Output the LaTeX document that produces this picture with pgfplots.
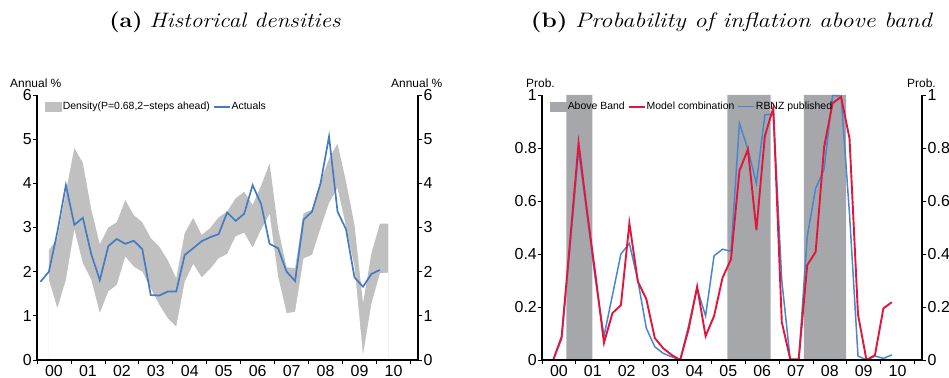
\documentclass[border=0pt]{standalone}
\usepackage{fontspec}
\setsansfont{Liberation Sans}
\usepackage{pgfplots}
\usepackage{pgfplotstable}
\pgfplotsset{compat=1.18}

\definecolor{bandgray}{RGB}{192,192,192}
\definecolor{actblue}{RGB}{68,124,196}
\definecolor{abovegray}{RGB}{166,167,171}
\definecolor{modred}{RGB}{226,22,58}
\definecolor{rbnzblue}{RGB}{74,134,207}

% Actual inflation (quarterly)
\pgfplotstableread{
x y
2000.10 1.77
2000.35 2.00
2000.60 2.90
2000.85 3.96
2001.10 3.06
2001.35 3.22
2001.60 2.39
2001.85 1.81
2002.10 2.58
2002.35 2.74
2002.60 2.63
2002.85 2.70
2003.10 2.51
2003.35 1.47
2003.60 1.46
2003.85 1.55
2004.10 1.55
2004.35 2.38
2004.60 2.53
2004.85 2.69
2005.10 2.78
2005.35 2.85
2005.60 3.34
2005.85 3.15
2006.10 3.31
2006.35 3.96
2006.60 3.53
2006.85 2.63
2007.10 2.53
2007.35 2.00
2007.60 1.79
2007.85 3.18
2008.10 3.36
2008.35 4.00
2008.60 5.06
2008.85 3.36
2009.10 2.96
2009.35 1.87
2009.60 1.66
2009.85 1.95
2010.10 2.04
}\actuals

% Density band (lower, upper)
\pgfplotstableread{
x lo up
2000.35 1.81 2.49
2000.60 1.17 2.75
2000.85 1.81 3.80
2001.10 2.95 4.80
2001.35 2.19 4.46
2001.60 1.81 3.40
2001.85 1.06 2.62
2002.10 1.55 3.00
2002.35 1.70 3.12
2002.60 2.34 3.62
2002.85 2.11 3.28
2003.10 2.00 3.12
2003.35 1.62 2.76
2003.60 1.25 2.57
2003.85 0.94 2.26
2004.10 0.75 1.85
2004.35 1.77 2.87
2004.60 2.17 3.22
2004.85 1.87 2.83
2005.10 2.06 2.99
2005.35 2.30 3.23
2005.60 2.40 3.36
2005.85 2.80 3.66
2006.10 2.88 3.81
2006.35 2.54 3.51
2006.60 2.95 3.95
2006.85 3.30 4.45
2007.10 1.89 2.98
2007.35 1.06 2.10
2007.60 1.09 2.08
2007.85 2.30 3.32
2008.10 2.38 3.40
2008.35 2.98 4.04
2008.60 3.55 4.55
2008.85 3.89 4.90
2009.10 3.02 4.04
2009.35 2.11 3.06
2009.60 0.11 1.28
2009.85 1.28 2.42
2010.10 1.96 3.09
2010.35 1.98 3.09
}\band

% Probabilities
\pgfplotstableread{
x model rbnz
2000.33 0.000 0.000
2000.58 0.088 0.080
2000.83 0.450 0.430
2001.08 0.818 0.790
2001.33 0.560 0.550
2001.58 0.320 0.300
2001.83 0.065 0.090
2002.08 0.177 0.245
2002.33 0.207 0.400
2002.58 0.516 0.440
2002.83 0.296 0.300
2003.08 0.230 0.120
2003.33 0.083 0.050
2003.58 0.044 0.025
2003.83 0.019 0.012
2004.08 0.000 0.000
2004.33 0.117 0.130
2004.58 0.277 0.270
2004.83 0.090 0.166
2005.08 0.166 0.393
2005.33 0.310 0.418
2005.58 0.380 0.410
2005.83 0.714 0.893
2006.08 0.795 0.795
2006.33 0.490 0.667
2006.58 0.845 0.925
2006.83 0.952 0.928
2007.08 0.143 0.300
2007.33 0.003 0.000
2007.58 0.003 0.000
2007.83 0.358 0.465
2008.08 0.408 0.648
2008.33 0.804 0.720
2008.58 0.969 0.998
2008.83 0.993 0.996
2009.08 0.836 0.550
2009.33 0.172 0.015
2009.58 0.000 0.000
2009.83 0.018 0.015
2010.08 0.195 0.006
2010.33 0.218 0.019
}\probs

\pgfplotsset{
  linelegend/.style={legend image code/.code={\draw[##1] (0bp,0bp) -- (16bp,0bp);}},
  boxlegend/.style={legend image code/.code={\fill[##1] (0bp,-5bp) rectangle (17bp,5bp);}},
  panel/.style={
    scale only axis, height=265bp,
    xmin=2000, xmax=2011.22,
    tick align=outside,
    /pgf/number format/assume math mode=true,
    tick label style={font=\sffamily\fontsize{16}{16}\selectfont, black},
    major tick length=4bp, minor tick length=4bp,
    tick style={black, line width=0.8bp},
  },
  mainpanel/.style={
    panel, axis on top,
    axis x line*=bottom, axis y line*=left,
    x axis line style={line width=1.2bp},
    y axis line style={line width=1.6bp},
    xtick={2000.5,2001.5,...,2010.5},
    xticklabels={00,01,02,03,04,05,06,07,08,09,10},
    major x tick style={draw=none},
    minor xtick={2000,2001,...,2011},
    xticklabel style={inner sep=1.5bp},
    yticklabel style={inner xsep=1bp},
    legend columns=-1,
    legend style={draw=none, fill=none, anchor=north west,
      font=\sffamily\fontsize{10.5}{12}\selectfont,
      nodes={inner sep=1bp},
      /tikz/every even column/.append style={column sep=2bp}},
  },
  twinpanel/.style={
    panel,
    axis x line=none, axis y line*=right,
    y axis line style={line width=1.1bp},
    yticklabel style={inner xsep=1.5bp},
  },
}

\begin{document}
\begin{tikzpicture}
\path[use as bounding box] (0bp,0bp) rectangle (949bp,378bp);

% Titles
\node at (225bp,356bp) {\scalebox{1.12}[1]{\fontsize{21}{25}\selectfont\textbf{(a)} \textit{Historical densities}}};
\node at (732bp,356bp) {\scalebox{1.17}[1]{\fontsize{21}{25}\selectfont\textbf{(b)} \textit{Probability of inflation above band}}};

% Axis unit labels
\node[font=\sffamily\fontsize{12}{14}\selectfont, anchor=west, inner sep=0pt] at (10bp,295bp) {Annual \%};
\node[font=\sffamily\fontsize{12}{14}\selectfont, anchor=west, inner sep=0pt] at (391bp,295bp) {Annual \%};
\node[font=\sffamily\fontsize{12}{14}\selectfont, anchor=west, inner sep=0pt] at (526bp,295bp) {Prob.};
\node[font=\sffamily\fontsize{12}{14}\selectfont, anchor=west, inner sep=0pt] at (907bp,295bp) {Prob.};

% ---------- Panel (a) ----------
\begin{axis}[mainpanel, at={(37bp,18bp)}, anchor=south west, width=381bp,
  ymin=0, ymax=6, ytick={0,1,...,6},
  legend style={at={(0.012,0.985)}}]
  \addplot[fill=bandgray, draw=none, boxlegend] table[x=x, y=up] {\band} \closedcycle;
  \addlegendentry{Density(P=0.68,2−steps ahead)}
  \addplot[fill=white, draw=none, forget plot] table[x=x, y=lo] {\band} \closedcycle;
  \addplot[actblue, line width=1.7bp, linelegend] table[x=x, y=y] {\actuals};
  \addlegendentry{Actuals}
\end{axis}
\begin{axis}[twinpanel, at={(37bp,18bp)}, anchor=south west, width=381bp,
  ymin=0, ymax=6, ytick={0,1,...,6}]
  \addplot[draw=none, forget plot] coordinates {(2000,0) (2011,6)};
\end{axis}

% ---------- Panel (b) ----------
\begin{axis}[mainpanel, at={(542bp,18bp)}, anchor=south west, width=380bp,
  ymin=0, ymax=1, ytick={0,0.2,...,1},
  legend style={at={(0.012,0.985)}}]
  \addplot[fill=abovegray, draw=none, const plot, boxlegend]
    coordinates {(2000.72,1) (2001.49,0) (2005.47,1) (2006.75,0) (2007.73,1) (2008.98,0) (2008.99,0)} \closedcycle;
  \addlegendentry{Above Band}
  \addlegendimage{modred, line width=1.9bp, linelegend}
  \addlegendentry{Model combination}
  \addplot[rbnzblue, line width=1.5bp, linelegend] table[x=x, y=rbnz] {\probs};
  \addlegendentry{RBNZ published}
  \addplot[modred, line width=1.9bp, forget plot] table[x=x, y=model] {\probs};
\end{axis}
\begin{axis}[twinpanel, at={(542bp,18bp)}, anchor=south west, width=380bp,
  ymin=0, ymax=1, ytick={0,0.2,...,1}]
  \addplot[draw=none, forget plot] coordinates {(2000,0) (2011,1)};
\end{axis}
\end{tikzpicture}
\end{document}
